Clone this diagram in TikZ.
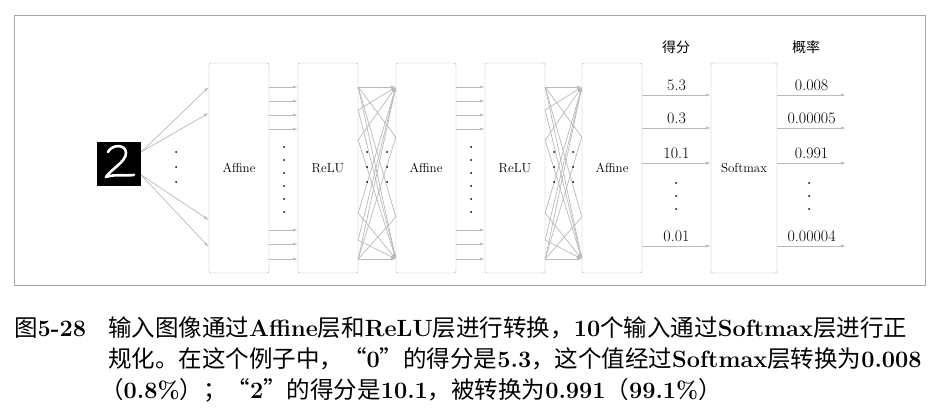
\documentclass[tikz,border=0pt]{standalone}
\usepackage{fontspec}
\newfontfamily\cjk{Noto Sans CJK SC}
\usetikzlibrary{arrows.meta,positioning}

\begin{document}
\begin{tikzpicture}[
    x=1pt, y=-1pt,
    layer/.style={rectangle, draw=gray!65, rounded corners=2pt, minimum width=60pt, minimum height=210pt, font=\fontsize{13}{15}\selectfont},
    arrow/.style={-{Latex[length=5pt,width=3pt]}, draw=gray!55, line width=0.7pt},
    link/.style={draw=gray!55, line width=0.7pt},
    val/.style={font=\fontsize{16}{18}\selectfont},
    dot/.style={circle, fill=black, inner sep=0pt, minimum size=2pt},
    captext/.style={anchor=base west, font=\fontsize{23.5}{26}\selectfont, inner sep=0pt}
]
\useasboundingbox (0,0) rectangle (940,420);
\draw[gray!70, line width=0.8pt] (14,15) rectangle (925,285);

% input image
\node[fill=black, minimum size=44pt, inner sep=0pt] (img) at (119,164) {};
\draw[white, line width=2.6pt, line cap=round, line join=round]
  (108,152) .. controls (112,144) and (126,144) .. (126,153)
  .. controls (126,162) and (110,170) .. (106,177)
  .. controls (114,174) and (124,176) .. (134,175);

% layers
\node[layer] (af1) at (239,168) {Affine};
\node[layer] (re1) at (328,168) {ReLU};
\node[layer] (af2) at (426,168) {Affine};
\node[layer] (re2) at (515,168) {ReLU};
\node[layer] (af3) at (612,168) {Affine};
\node[layer, minimum width=66pt] (sm) at (744,168) {Softmax};

% input fan
\foreach \y in {87,113} \draw[arrow] (img.north east |- 0,152) -- (af1.west |- 0,\y);
\foreach \y in {220,247} \draw[arrow] (img.north east |- 0,175) -- (af1.west |- 0,\y);
\foreach \y in {152,167,182} \node[dot] at (176,\y) {};

% one-to-one links
\foreach \a/\b in {af1/re1,af2/re2}{
  \foreach \y in {87,101,115,129,230,244,259}
    \draw[arrow] (\a.east |- 0,\y) -- (\b.west |- 0,\y);
}
\foreach \y in {147,160,173,186,199,212} {
  \node[dot] at (284,\y) {};
  \node[dot] at (471,\y) {};
}

% fully connected links
\foreach \a/\b/\xa/\xb in {re1/af2/367/387,re2/af3/554/573}{
  \foreach \l in {87,110,140,213,240,259}
    \foreach \r in {87,259}
      \draw[arrow] (\a.east |- 0,\l) -- (\b.west |- 0,\r);
  \foreach \l in {87,259}
    \foreach \r in {137,217}
      \draw[link] (\a.east |- 0,\l) -- (\b.west |- 0,\r);
  \foreach \y in {152,167,182} {
    \node[dot] at (\xa,\y) {};
    \node[dot] at (\xb,\y) {};
  }
}

% scores and probabilities
\node[font=\cjk\fontsize{14}{16}\selectfont] (hs) at (676,47) {得分};
\node[font=\cjk\fontsize{14}{16}\selectfont] (hp) at (806,47) {概率};
\foreach \y/\s/\p in {95/5.3/0.008,128/0.3/0.00005,163/10.1/0.991,246/0.01/0.00004}{
  \draw[arrow] (af3.east |- 0,\y) -- node[val, above=1pt] {\s} (sm.west |- 0,\y);
  \coordinate (o\y) at (846,\y);
  \draw[arrow] (sm.east |- 0,\y) -- node[val, above=1pt] {\p} (o\y);
}
\foreach \y in {183,196,209} {
  \node[dot] at (676,\y) {};
  \node[dot] at (809,\y) {};
}

% caption
\node[captext] (c0) at (14,336) {{\cjk 图}\textbf{5-28}};
\node[captext] (c1) at (108,336) {{\cjk 输入图像通过}\textbf{Affine}{\cjk 层和}\textbf{ReLU}{\cjk 层进行转换，}\textbf{10}{\cjk 个输入通过}\textbf{Softmax}{\cjk 层进行正}};
\node[captext] (c2) at (108,367) {{\cjk 规化。在这个例子中，“}\textbf{0}{\cjk ”的得分是}\textbf{5.3}{\cjk ，这个值经过}\textbf{Softmax}{\cjk 层转换为}\textbf{0.008}};
\node[captext] (c3) at (100,398) {{\cjk （}\textbf{0.8\%}{\cjk ）；“}\textbf{2}{\cjk ”的得分是}\textbf{10.1}{\cjk ，被转换为}\textbf{0.991}{\cjk （}\textbf{99.1\%}{\cjk ）}};
\end{tikzpicture}
\end{document}
